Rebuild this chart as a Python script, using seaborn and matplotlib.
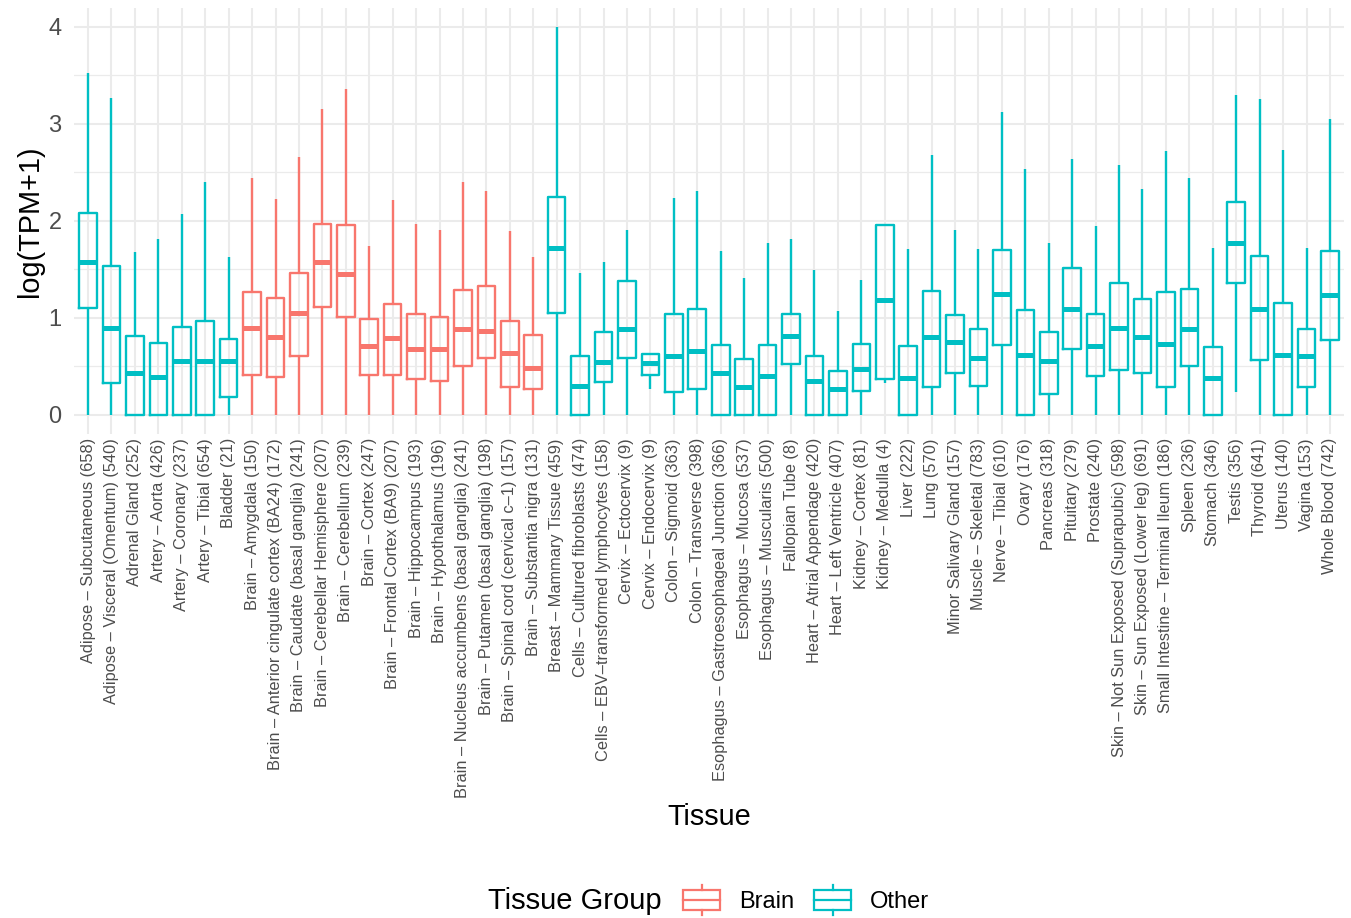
import numpy as np
import pandas as pd
import matplotlib
matplotlib.use("Agg")
import matplotlib.pyplot as plt
from matplotlib.patches import Patch, Rectangle
from matplotlib.lines import Line2D
from matplotlib.legend_handler import HandlerBase
from matplotlib.ticker import MultipleLocator
import seaborn as sns

# tissues in plot order, with sample counts
tissues = [
    "Adipose – Subcutaneous (658)", "Adipose – Visceral (Omentum) (540)", "Adrenal Gland (252)",
    "Artery – Aorta (426)", "Artery – Coronary (237)", "Artery – Tibial (654)", "Bladder (21)",
    "Brain – Amygdala (150)", "Brain – Anterior cingulate cortex (BA24) (172)",
    "Brain – Caudate (basal ganglia) (241)", "Brain – Cerebellar Hemisphere (207)",
    "Brain – Cerebellum (239)", "Brain – Cortex (247)", "Brain – Frontal Cortex (BA9) (207)",
    "Brain – Hippocampus (193)", "Brain – Hypothalamus (196)",
    "Brain – Nucleus accumbens (basal ganglia) (241)", "Brain – Putamen (basal ganglia) (198)",
    "Brain – Spinal cord (cervical c–1) (157)", "Brain – Substantia nigra (131)",
    "Breast – Mammary Tissue (459)", "Cells – Cultured fibroblasts (474)",
    "Cells – EBV–transformed lymphocytes (158)", "Cervix – Ectocervix (9)", "Cervix – Endocervix (9)",
    "Colon – Sigmoid (363)", "Colon – Transverse (398)", "Esophagus – Gastroesophageal Junction (366)",
    "Esophagus – Mucosa (537)", "Esophagus – Muscularis (500)", "Fallopian Tube (8)",
    "Heart – Atrial Appendage (420)", "Heart – Left Ventricle (407)", "Kidney – Cortex (81)",
    "Kidney – Medulla (4)", "Liver (222)", "Lung (570)", "Minor Salivary Gland (157)",
    "Muscle – Skeletal (783)", "Nerve – Tibial (610)", "Ovary (176)", "Pancreas (318)",
    "Pituitary (279)", "Prostate (240)", "Skin – Not Sun Exposed (Suprapubic) (598)",
    "Skin – Sun Exposed (Lower leg) (691)", "Small Intestine – Terminal Ileum (186)", "Spleen (236)",
    "Stomach (346)", "Testis (356)", "Thyroid (641)", "Uterus (140)", "Vagina (153)",
    "Whole Blood (742)",
]

# five-number summaries of log(TPM+1)
lower = [0, 0, 0, 0, 0, 0, 0,
         0, 0, 0, 0, 0, 0, 0, 0, 0, 0, 0, 0, 0,
         0, 0, 0, 0, 0.26, 0, 0, 0, 0, 0, 0, 0, 0, 0, 0.33, 0, 0, 0, 0, 0,
         0, 0, 0, 0, 0, 0, 0, 0, 0, 0.23, 0, 0, 0, 0]
q1 = [1.10, 0.33, 0, 0, 0, 0, 0.18,
      0.41, 0.39, 0.61, 1.11, 1.01, 0.41, 0.41, 0.37, 0.35, 0.50, 0.58, 0.29, 0.26,
      1.05, 0, 0.34, 0.58, 0.41, 0.23, 0.26, 0, 0, 0, 0.52, 0, 0, 0.24, 0.37, 0, 0.28, 0.43, 0.30, 0.72,
      0, 0.21, 0.68, 0.40, 0.46, 0.43, 0.28, 0.50, 0, 1.36, 0.56, 0, 0.29, 0.77]
median = [1.57, 0.89, 0.43, 0.39, 0.55, 0.55, 0.55,
          0.89, 0.80, 1.05, 1.58, 1.45, 0.71, 0.79, 0.68, 0.68, 0.88, 0.86, 0.64, 0.48,
          1.72, 0.30, 0.54, 0.88, 0.53, 0.60, 0.66, 0.43, 0.28, 0.40, 0.81, 0.35, 0.26, 0.47, 1.18, 0.38,
          0.80, 0.75, 0.58, 1.24, 0.62, 0.55, 1.09, 0.71, 0.89, 0.80, 0.73, 0.88, 0.38, 1.77, 1.09, 0.62,
          0.61, 1.23]
q3 = [2.08, 1.53, 0.81, 0.74, 0.90, 0.97, 0.78,
      1.27, 1.20, 1.46, 1.97, 1.96, 0.99, 1.14, 1.04, 1.01, 1.29, 1.33, 0.97, 0.82,
      2.25, 0.61, 0.85, 1.38, 0.63, 1.04, 1.09, 0.72, 0.57, 0.72, 1.04, 0.61, 0.45, 0.73, 1.96, 0.71,
      1.28, 1.03, 0.88, 1.70, 1.08, 0.85, 1.51, 1.04, 1.36, 1.19, 1.27, 1.30, 0.70, 2.19, 1.64, 1.15,
      0.88, 1.69]
upper = [3.52, 3.27, 1.68, 1.81, 2.07, 2.40, 1.63,
         2.44, 2.22, 2.66, 3.15, 3.36, 1.74, 2.21, 1.97, 1.91, 2.40, 2.31, 1.89, 1.63,
         4.00, 1.46, 1.58, 1.90, 0.63, 2.24, 2.31, 1.69, 1.41, 1.77, 1.81, 1.49, 1.07, 1.39, 1.97, 1.71,
         2.68, 1.90, 1.71, 3.12, 2.53, 1.77, 2.64, 1.95, 2.58, 2.33, 2.72, 2.44, 1.72, 3.30, 3.26, 2.73,
         1.72, 3.05]

groups = ["Brain" if t.startswith("Brain") else "Other" for t in tissues]
group_order = ["Brain", "Other"]
palette = {"Brain": "#F8766D", "Other": "#00BFC4"}

# long table: 5 values per tissue -> quartiles land exactly on the read values
rows = []
for i, t in enumerate(tissues):
    for v in (lower[i], q1[i], median[i], q3[i], upper[i]):
        rows.append((t, groups[i], v))
df = pd.DataFrame(rows, columns=["Tissue", "Group", "value"])

plt.rcParams["font.family"] = ["Liberation Sans", "DejaVu Sans"]

fig = plt.figure(figsize=(13.51, 9.18), dpi=100)
ax = fig.add_axes([74 / 1351, 1 - 434 / 918, 1270 / 1351, 426.4 / 918])

sns.boxplot(data=df, x="Tissue", y="value", hue="Group", order=tissues,
            hue_order=group_order, palette=palette, dodge=False, fill=False,
            width=0.75, whis=(0, 100), showcaps=False, showfliers=False,
            linewidth=1.7, medianprops={"linewidth": 3.6}, legend=False, ax=ax)

ax.set_xlim(-0.6, len(tissues) - 0.4)
ax.set_ylim(-0.2, 4.2)
ax.yaxis.set_major_locator(MultipleLocator(1))
ax.yaxis.set_minor_locator(MultipleLocator(0.5))

for s in ax.spines.values():
    s.set_visible(False)
ax.set_axisbelow(True)
ax.grid(True, which="major", axis="both", color="#EBEBEB", linewidth=1.45)
ax.grid(True, which="minor", axis="y", color="#EBEBEB", linewidth=0.9)
ax.tick_params(which="both", length=0)
ax.tick_params(axis="y", labelsize=17, labelcolor="#4D4D4D", pad=9)
ax.tick_params(axis="x", labelsize=11.8, labelcolor="#4D4D4D", pad=3)
for lab in ax.get_xticklabels():
    lab.set_rotation(90)
    lab.set_ha("center")
    lab.set_va("top")

ax.set_xlabel("Tissue", fontsize=20.8)
ax.xaxis.label.set_va("center")
ax.xaxis.set_label_coords(0.5, (434 - 817) / 426.4)
ax.set_ylabel("log(TPM+1)", fontsize=20.8)
ax.yaxis.label.set_va("center")
ax.yaxis.set_label_coords((30 - 74) / 1270, 0.5)


class BoxKey(HandlerBase):
    def create_artists(self, legend, orig_handle, xdescent, ydescent, width, height, fontsize, trans):
        c = orig_handle.get_edgecolor()
        x0, y0 = -xdescent, -ydescent
        bh = height * 0.66
        yb = y0 + (height - bh) / 2
        box = Rectangle((x0, yb), width, bh, fill=False, edgecolor=c, lw=1.6, transform=trans)
        med = Line2D([x0, x0 + width], [y0 + height / 2] * 2, color=c, lw=1.6, transform=trans)
        w1 = Line2D([x0 + width / 2] * 2, [yb + bh, y0 + height], color=c, lw=1.6, transform=trans)
        w2 = Line2D([x0 + width / 2] * 2, [y0, yb], color=c, lw=1.6, transform=trans)
        return [box, med, w1, w2]


handles = [Patch(edgecolor=palette[g], facecolor="none", label=g) for g in group_order]
fig.text(488 / 1351, 1 - 901 / 918, "Tissue Group", fontsize=21, va="center", ha="left")
fig.legend(handles=handles, loc="center left", bbox_to_anchor=(683 / 1351, 1 - 900 / 918),
           ncol=2, frameon=False, fontsize=17, handler_map={Patch: BoxKey()},
           handlelength=1.57, handleheight=1.6, handletextpad=0.8, columnspacing=0.85,
           borderpad=0, borderaxespad=0)

fig.savefig("out.png", dpi=100, facecolor="white")
